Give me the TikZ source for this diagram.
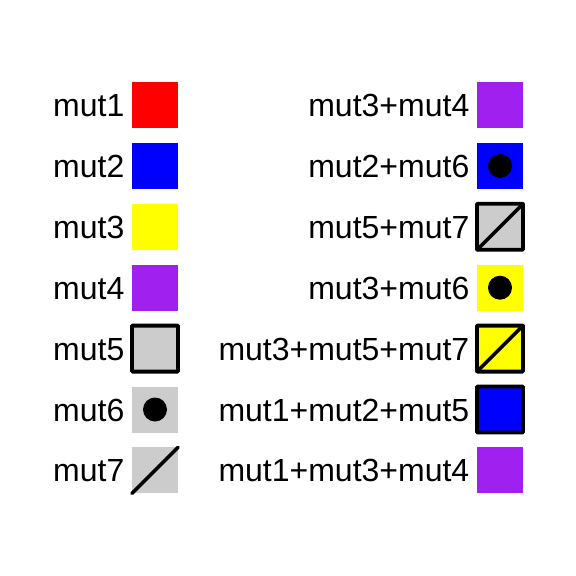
\documentclass[tikz,border=0pt]{standalone}
\usepackage{fontspec}
\setmainfont{Liberation Sans}
\definecolor{rpurple}{HTML}{A020F0}
\definecolor{rgray}{HTML}{CCCCCC}
\definecolor{rred}{HTML}{FF0000}
\definecolor{rblue}{HTML}{0000FF}
\definecolor{ryellow}{HTML}{FFFF00}
\begin{document}
\begin{tikzpicture}[x=1pt,y=-1pt,
  sq/.style={rectangle,minimum size=46pt,inner sep=0pt,outer sep=0pt,fill=#1,draw=none},
  bsq/.style={rectangle,minimum size=46pt,inner sep=0pt,outer sep=0pt,fill=#1,draw=black,line width=3.8pt,rounded corners=0.8pt},
  dotmark/.style={circle,fill=black,minimum size=24pt,inner sep=0pt,draw=none},
  diag/.style={line width=3.6pt,line cap=round},
  lab/.style={anchor=base east,inner sep=0pt,font=\fontsize{32}{38}\selectfont}]
\useasboundingbox (0,0) rectangle (576,576);
% left column
\node[sq=rred] (a1) at (155,105) {};
\node[sq=rblue] (a2) at (155,165.9) {};
\node[sq=ryellow] (a3) at (155,226.8) {};
\node[sq=rpurple] (a4) at (155,287.7) {};
\node[bsq=rgray] (a5) at (155,348.6) {};
\node[sq=rgray] (a6) at (155,409.5) {};
\node[dotmark] (a6d) at (a6) {};
\node[sq=rgray] (a7) at (155,470.4) {};
\draw[diag] (a7.south west) -- (a7.north east);
\node[lab] (la1) at (124.5,116.5) {mut1};
\node[lab] (la2) at (124.5,177.4) {mut2};
\node[lab] (la3) at (124.5,238.3) {mut3};
\node[lab] (la4) at (124.5,299.2) {mut4};
\node[lab] (la5) at (124.5,360.1) {mut5};
\node[lab] (la6) at (124.5,421) {mut6};
\node[lab] (la7) at (124.5,481.9) {mut7};
% right column
\node[sq=rpurple] (b1) at (500,105) {};
\node[sq=rblue] (b2) at (500,165.9) {};
\node[dotmark] (b2d) at (b2) {};
\node[bsq=rgray] (b3) at (500,226.8) {};
\draw[diag] (b3.south west) -- (b3.north east);
\node[sq=ryellow] (b4) at (500,287.7) {};
\node[dotmark] (b4d) at (b4) {};
\node[bsq=ryellow] (b5) at (500,348.6) {};
\draw[diag] (b5.south west) -- (b5.north east);
\node[bsq=rblue] (b6) at (500,409.5) {};
\node[sq=rpurple] (b7) at (500,470.4) {};
\node[lab] (lb1) at (469.5,116.5) {mut3+mut4};
\node[lab] (lb2) at (469.5,177.4) {mut2+mut6};
\node[lab] (lb3) at (469.5,238.3) {mut5+mut7};
\node[lab] (lb4) at (469.5,299.2) {mut3+mut6};
\node[lab] (lb5) at (469.5,360.1) {mut3+mut5+mut7};
\node[lab] (lb6) at (469.5,421) {mut1+mut2+mut5};
\node[lab] (lb7) at (469.5,481.9) {mut1+mut3+mut4};
\end{tikzpicture}
\end{document}
